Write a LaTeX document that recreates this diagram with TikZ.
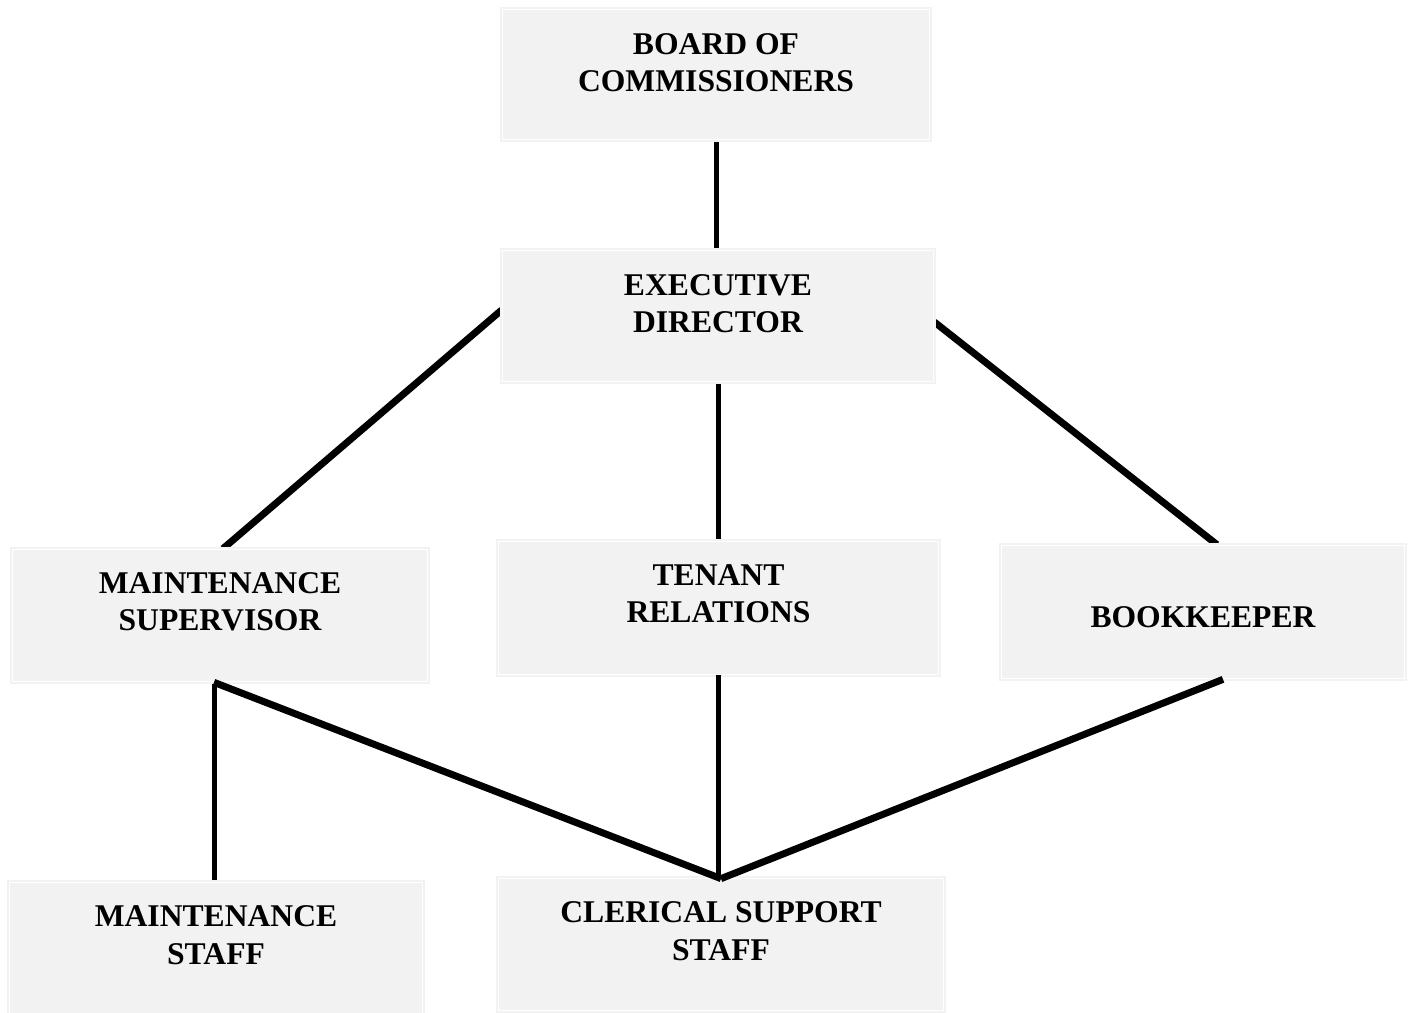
\documentclass[tikz,border=0pt]{standalone}
\usepackage{fontspec}
\setmainfont{Liberation Serif}
\usepackage{tikz}
\usetikzlibrary{backgrounds}

\definecolor{boxgray}{HTML}{F2F2F2}

\begin{document}
\begin{tikzpicture}[x=0.02cm, y=-0.02cm,
    box/.style={rectangle, fill=boxgray, draw=boxgray, double=white,
      double distance=0.03cm, line width=0.035cm, inner sep=0pt},
    txt/.style={font=\bfseries\fontsize{18}{21.3}\selectfont, align=center, inner sep=0pt},
    thin link/.style={line width=0.1cm},
    thick link/.style={line width=0.14cm}]
  \useasboundingbox (0,0) rectangle (1411,1013);

  % Boxes
  \node[box, minimum width=8.54cm, minimum height=2.6cm] (board) at (716,74.5) {};
  \node[box, minimum width=8.62cm, minimum height=2.62cm] (exec) at (718,316) {};
  \node[box, minimum width=8.3cm, minimum height=2.64cm] (msup) at (220,615.5) {};
  \node[box, minimum width=8.8cm, minimum height=2.66cm] (tenant) at (718.5,608) {};
  \node[box, minimum width=8.06cm, minimum height=2.66cm] (book) at (1203,612) {};
  \node[box, minimum width=8.26cm, minimum height=2.62cm] (mstaff) at (216,948) {};
  \node[box, minimum width=8.9cm, minimum height=2.64cm] (clerical) at (721,944.5) {};

  % Titles
  \node[txt] (board-txt) at ([yshift=0.24cm]board.center) {BOARD OF\\COMMISSIONERS};
  \node[txt] (exec-txt) at ([yshift=0.25cm]exec.center) {EXECUTIVE\\DIRECTOR};
  \node[txt] (msup-txt) at ([yshift=0.27cm]msup.center) {MAINTENANCE\\SUPERVISOR};
  \node[txt] (tenant-txt) at ([yshift=0.28cm]tenant.center) {TENANT\\RELATIONS};
  \node[txt] (book-txt) at ([yshift=-0.1cm]book.center) {BOOKKEEPER};
  \node[txt] (mstaff-txt) at ([yshift=0.26cm]mstaff.center) {MAINTENANCE\\STAFF};
  \node[txt] (clerical-txt) at ([yshift=0.27cm]clerical.center) {CLERICAL SUPPORT\\STAFF};

  % Links, behind the boxes
  \begin{scope}[on background layer]
    \draw[thin link] (board.south) -- (board.south |- exec.north);
    \draw[thick link] ([yshift=0.12cm]exec.west) -- ([xshift=0.06cm]msup.north);
    \draw[thin link] (exec.south) -- (exec.south |- tenant.north);
    \draw[thick link] ([yshift=-0.12cm]exec.east) -- ([xshift=0.28cm]book.north);

    \coordinate (msup-foot) at ([xshift=-0.12cm]msup.south);
    \draw[thin link] (msup-foot) -- (msup-foot |- mstaff.north);
  \end{scope}

  % the three links into clerical meet on its top edge
  \coordinate (clerical-top) at ([yshift=-0.02cm]clerical.north);
  \draw[thick link] (msup-foot) -- (clerical-top);
  \draw[thin link] (tenant.south) -- (tenant.south |- clerical-top);
  \draw[thick link] ([xshift=0.4cm]book.south) -- (clerical-top);
\end{tikzpicture}
\end{document}
